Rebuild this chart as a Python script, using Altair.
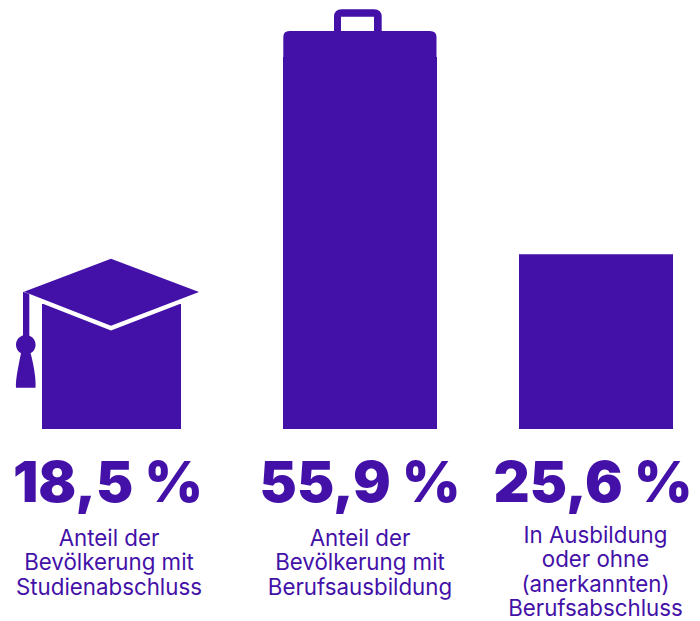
import altair as alt
import pandas as pd

categories = ["Studium", "Beruf", "Andere"]
bar_heights = [18.5, 55.1, 25.9]
headlines = ["18,5 %", "55,9 %", "25,6 %"]
labels = [
    "Anteil der\nBevölkerung mit\nStudienabschluss",
    "Anteil der\nBevölkerung mit\nBerufsausbildung",
    "In Ausbildung\noder ohne\n(anerkannten)\nBerufsabschluss",
]

PURPLE = "#4311A8"
ICON_SIZE = 40000  # 1 path unit = 100 px

CAP = "M -0.875 -0.123 L -0.005 -0.453 L 0.875 -0.12 L -0.005 0.217 Z"
TASSEL = (
    "M -0.885 -0.123 L -0.822 -0.10 L -0.822 0.33 L -0.885 0.33 Z "
    "M -0.955 0.407 A 0.098 0.098 0 1 1 -0.759 0.407 A 0.098 0.098 0 1 1 -0.955 0.407 Z "
    "M -0.815 0.47 C -0.765 0.65 -0.755 0.78 -0.76 0.837 L -0.955 0.837 C -0.96 0.78 -0.945 0.68 -0.90 0.47 Z"
)
CASE = (
    "M -0.767 0 L -0.767 -0.20 Q -0.767 -0.26 -0.707 -0.26 L 0.70 -0.26 Q 0.765 -0.26 0.765 -0.20 L 0.765 0 Z "
    "M -0.26 -0.26 L -0.26 -0.40 Q -0.26 -0.477 -0.183 -0.477 L 0.14 -0.477 Q 0.217 -0.477 0.217 -0.40 "
    "L 0.217 -0.26 L 0.14 -0.26 L 0.14 -0.403 L -0.19 -0.403 L -0.19 -0.26 Z"
)

df = pd.DataFrame({
    "kat": categories,
    "wert": bar_heights,
    "headline": headlines,
    "label": labels,
})

x_enc = alt.X(
    "kat:N", axis=None, sort=categories,
    scale=alt.Scale(type="point", domain=categories, range=[103.5, 588], padding=0),
)
y_enc = alt.Y(
    "wert:Q", axis=None,
    scale=alt.Scale(domain=[0, 62.37], range=[421, 0], nice=False, zero=True),
)

bar_layout = {"Studium": (139, 0), "Beruf": (154, 6.25), "Andere": (154, 0)}
head_off = {"Studium": -3.5, "Beruf": 6.25, "Andere": -3}
label_off = {"Studium": -2.5, "Beruf": 6.25, "Andere": -0.5}
label_y = {"Studium": 538, "Beruf": 538, "Andere": 535}
label_lh = {"Studium": 24.4, "Beruf": 24.4, "Andere": 24.4}

layers = []
for k in categories:
    sub = df[df.kat == k]
    w, off = bar_layout[k]
    base = alt.Chart(sub)
    layers.append(base.mark_bar(size=w, xOffset=off, color=PURPLE).encode(x=x_enc, y=y_enc))

    if k == "Studium":
        pt = dict(filled=True, opacity=1, size=ICON_SIZE)
        layers.append(base.mark_point(shape=CAP, color=PURPLE, fill=PURPLE, stroke="white",
                                      strokeWidth=8.5, **pt).encode(x=x_enc, y=y_enc))
        layers.append(base.mark_point(shape=CAP, color=PURPLE, strokeWidth=0, **pt).encode(x=x_enc, y=y_enc))
        layers.append(base.mark_point(shape=TASSEL, color=PURPLE, strokeWidth=0, **pt).encode(x=x_enc, y=y_enc))
    if k == "Beruf":
        layers.append(base.mark_point(shape=CASE, color=PURPLE, filled=True, opacity=1, strokeWidth=0,
                                      size=ICON_SIZE, xOffset=off).encode(x=x_enc, y=y_enc))

    layers.append(base.mark_text(font="Inter", fontSize=56, fontWeight=900, color=PURPLE,
                                 align="center", baseline="alphabetic", xOffset=head_off[k]).encode(
        x=x_enc, y=alt.value(494), text="headline:N"))
    layers.append(base.mark_text(font="Inter", fontSize=22.3, fontWeight=400, color=PURPLE,
                                 align="center", baseline="alphabetic", lineBreak="\n", lineHeight=label_lh[k],
                                 xOffset=label_off[k]).encode(
        x=x_enc, y=alt.value(label_y[k]), text="label:N"))

chart = alt.layer(*layers).properties(
    width=684, height=613, padding=0,
    autosize=alt.AutoSizeParams(type="none"),
).configure_view(stroke=None)

chart.save("out.html", embed_options={"renderer": "svg", "actions": False})
